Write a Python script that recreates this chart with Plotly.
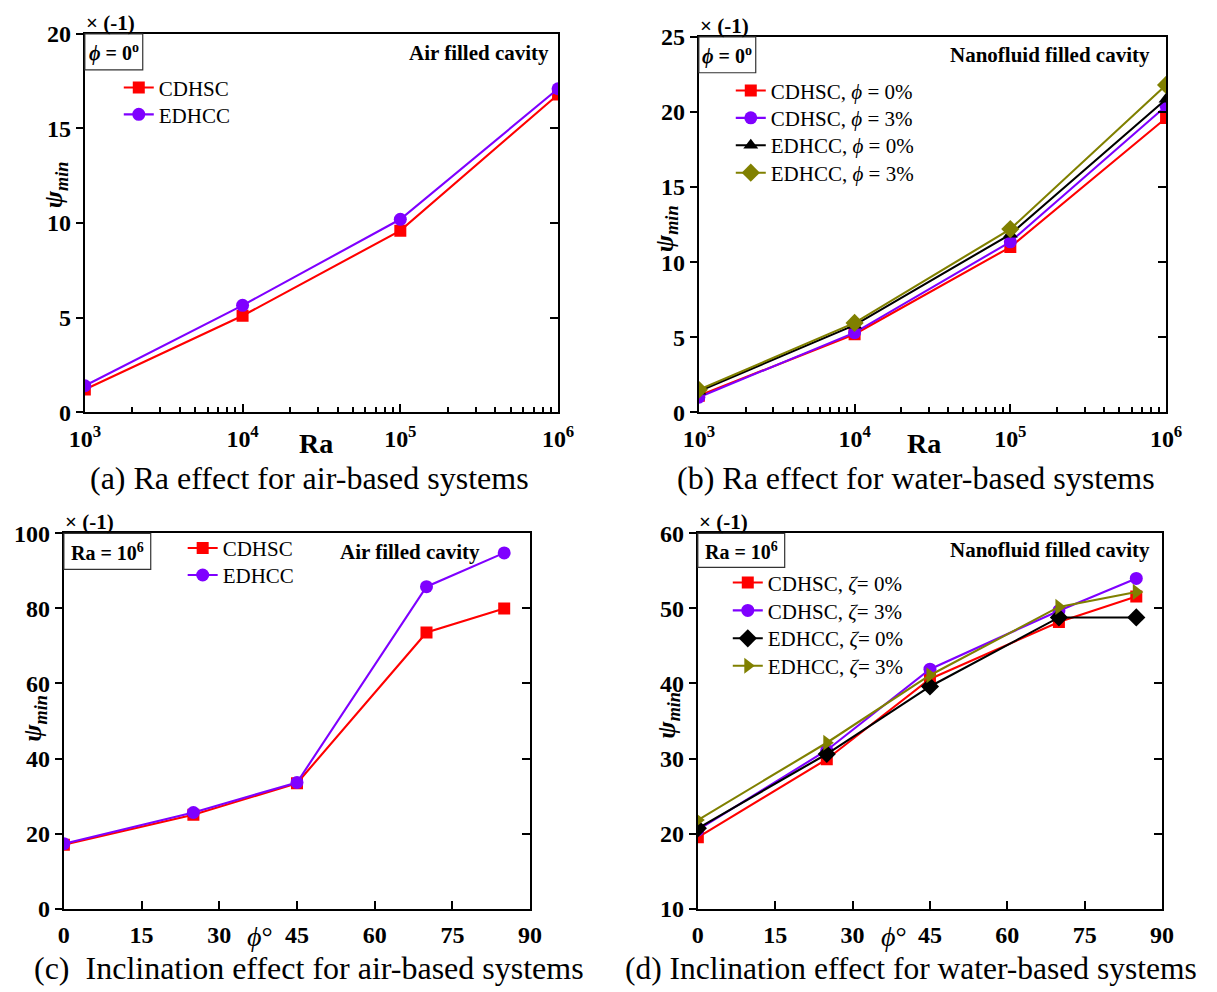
import plotly.graph_objects as go

W, H = 1217, 992
FONT = "Liberation Serif, Times New Roman, serif"

# ---------------- data ----------------
ra_vals = [1e3, 1e4, 1e5, 1e6]
ra_ticktext = ["10<sup>3</sup>", "10<sup>4</sup>", "10<sup>5</sup>", "10<sup>6</sup>"]

# (a) air, phi = 0
a_cdhsc = [1.2, 5.1, 9.6, 16.8]
a_edhcc = [1.4, 5.65, 10.2, 17.1]

# (b) nanofluid, phi = 0
b_cdhsc_0 = [1.1, 5.2, 11.0, 19.6]
b_cdhsc_3 = [1.0, 5.3, 11.35, 20.4]
b_edhcc_0 = [1.4, 5.8, 11.85, 20.85]
b_edhcc_3 = [1.5, 5.95, 12.2, 21.8]

# (c) air, Ra = 1e6
inc_vals = [0, 25, 45, 70, 85]
c_cdhsc = [17.0, 25.0, 33.4, 73.6, 80.0]
c_edhcc = [17.3, 25.6, 33.6, 85.8, 94.8]

# (d) nanofluid, Ra = 1e6
d_cdhsc_0 = [19.5, 29.9, 40.6, 48.2, 51.6]
d_cdhsc_3 = [20.5, 31.1, 41.9, 49.7, 54.0]
d_edhcc_0 = [20.7, 30.6, 39.6, 48.8, 48.8]
d_edhcc_3 = [21.8, 32.1, 41.1, 50.2, 52.2]

RED, PURPLE, BLACK, OLIVE = "#FF0000", "#7F00FF", "#000000", "#808000"

# The photographed page shows the figure slightly inset/scaled; these map
# wanted picture positions (pixels) onto paper fractions.
SX, OX = 0.9753, 15.05
SY, OY = 0.9767, 11.05


def px(X):
    return ((X - OX) / SX) / W


def py(Y):
    return 1 - ((Y - OY) / SY) / H


# panel geometry in picture pixels: (left, right, top, bottom)
P = {
    "a": (84, 558, 32, 411.5),
    "b": (699, 1167, 35, 411.5),
    "c": (63, 530, 533, 909.3),
    "d": (698, 1163, 533, 909.3),
}

fig = go.Figure()
LW = 2.1

legfont = dict(family=FONT, size=21, color="black")
leg_layouts = {}
ROW_OFF = 22.5


def add(x, y, name, color, symbol, xa, ya, leg_x, row_y, size=12):
    n = len(leg_layouts) + 1
    key = "legend" if n == 1 else "legend%d" % n
    leg_layouts[key] = dict(x=px(leg_x), y=py(row_y - ROW_OFF), xanchor="left",
                            yanchor="top", bgcolor="rgba(0,0,0,0)", borderwidth=0,
                            font=legfont, itemsizing="trace")
    fig.add_trace(go.Scatter(
        x=x, y=y, name=name, mode="lines+markers",
        line=dict(color=color, width=LW),
        marker=dict(color=color, symbol=symbol, size=size),
        xaxis=xa, yaxis=ya, legend=key))


add(ra_vals, a_cdhsc, "CDHSC", RED, "square", "x", "y", 118, 88, 12)
add(ra_vals, a_edhcc, "EDHCC", PURPLE, "circle", "x", "y", 118, 115, 13)

add(ra_vals, b_cdhsc_0, "CDHSC, <i>ϕ</i> = 0%", RED, "square", "x2", "y2", 731, 91, 12)
add(ra_vals, b_cdhsc_3, "CDHSC, <i>ϕ</i> = 3%", PURPLE, "circle", "x2", "y2", 731, 118.5, 13)
add(ra_vals, b_edhcc_0, "EDHCC, <i>ϕ</i> = 0%", BLACK, "triangle-up", "x2", "y2", 731, 146, 13)
add(ra_vals, b_edhcc_3, "EDHCC, <i>ϕ</i> = 3%", OLIVE, "diamond", "x2", "y2", 731, 173.5, 14)

add(inc_vals, c_cdhsc, "CDHSC", RED, "square", "x3", "y3", 182, 550, 12)
add(inc_vals, c_edhcc, "EDHCC", PURPLE, "circle", "x3", "y3", 182, 577, 13)

add(inc_vals, d_cdhsc_0, "CDHSC, <i>ζ</i>= 0%", RED, "square", "x4", "y4", 728, 584.5, 12)
add(inc_vals, d_cdhsc_3, "CDHSC, <i>ζ</i>= 3%", PURPLE, "circle", "x4", "y4", 728, 612.5, 13)
add(inc_vals, d_edhcc_0, "EDHCC, <i>ζ</i>= 0%", BLACK, "diamond", "x4", "y4", 728, 640.5, 14)
add(inc_vals, d_edhcc_3, "EDHCC, <i>ζ</i>= 3%", OLIVE, "triangle-right", "x4", "y4", 728, 668, 14)

# empty traces so that the right-side tick axes render
for i, xa in zip(range(5, 9), ["x", "x2", "x3", "x4"]):
    fig.add_trace(go.Scatter(x=[], y=[], xaxis=xa, yaxis="y%d" % i,
                             showlegend=False, hoverinfo="skip"))

tickfont = dict(family=FONT, size=24, color="black", weight="bold")

layout = dict(
    width=W, height=H, margin=dict(l=0, r=0, t=0, b=0),
    paper_bgcolor="white", plot_bgcolor="white",
    font=dict(family=FONT, color="black"),
    showlegend=True,
)
layout.update(leg_layouts)

ykeys = {"a": "", "b": "2", "c": "3", "d": "4"}
yr = {"a": ([0, 20], 5), "b": ([0, 25], 5), "c": ([0, 100], 20), "d": ([10, 60], 10)}
minor_log = [m * 10 ** e for e in (3, 4, 5) for m in range(2, 10)]

for k, (l, r, t, b) in P.items():
    s = ykeys[k]
    xa = dict(domain=[px(l), px(r)], anchor="y" + s, showgrid=False, zeroline=False,
              showline=True, linecolor="black", linewidth=LW, mirror=True,
              ticks="inside", ticklen=8, tickwidth=2, tickcolor="black",
              tickfont=tickfont, ticklabelstandoff=4)
    if k in ("a", "b"):
        xa.update(type="log", range=[3, 6], tickmode="array", tickvals=ra_vals,
                  ticktext=ra_ticktext,
                  minor=dict(tickmode="array", tickvals=minor_log, ticks="inside",
                             ticklen=5, tickwidth=1.5, tickcolor="black", showgrid=False))
    else:
        xa.update(range=[0, 90], tickmode="array", tickvals=list(range(0, 91, 15)))
    rng, dt = yr[k]
    yvals = list(range(rng[0], rng[1] + 1, dt))
    ya = dict(domain=[py(b), py(t)], anchor="x" + s, range=rng, tickmode="array",
              tickvals=yvals, showgrid=False, zeroline=False, showline=True,
              linecolor="black", linewidth=LW, mirror=True, ticks="outside", ticklen=7,
              tickwidth=2, tickcolor="black", tickfont=tickfont)
    layout["xaxis" + s] = xa
    layout["yaxis" + s] = ya
    rk = {"a": "5", "b": "6", "c": "7", "d": "8"}[k]
    layout["yaxis" + rk] = dict(overlaying="y" + s, side="right", anchor="x" + s,
                                range=rng, tickmode="array", tickvals=yvals,
                                ticks="inside", ticklen=8, tickwidth=2, tickcolor="black",
                                showticklabels=False, showgrid=False, zeroline=False,
                                showline=False)

fig.update_layout(**layout)

ann = []
shapes = []


def text(x, y, t, size, bold=False, xanchor="center", yanchor="middle", angle=0):
    ann.append(dict(xref="paper", yref="paper", x=px(x), y=py(y), text=t,
                    showarrow=False, xanchor=xanchor, yanchor=yanchor, textangle=angle,
                    borderpad=0,
                    font=dict(family=FONT, size=size, color="black",
                              weight="bold" if bold else "normal")))


# x(-1) labels
for (l, r, t, b) in P.values():
    text(l, t - 11, "× (-1)", 21, bold=True, xanchor="left")

# boxed condition labels
boxes = {
    "a": (84, 142, 32, 68, "<i>ϕ</i> = 0<sup>o</sup>"),
    "b": (699, 756, 35, 71, "<i>ϕ</i> = 0<sup>o</sup>"),
    "c": (63, 150, 533, 569, "Ra = 10<sup>6</sup>"),
    "d": (698, 785, 533, 567, "Ra = 10<sup>6</sup>"),
}
for (x0, x1, y0, y1, t) in boxes.values():
    shapes.append(dict(type="rect", xref="paper", yref="paper", x0=px(x0), x1=px(x1),
                       y0=py(y1), y1=py(y0), line=dict(color="#333333", width=1.2)))
    text((x0 + x1) / 2, (y0 + y1) / 2 + 1, t, 20, bold=True)

# cavity labels
text(550, 51, "Air filled cavity", 21, bold=True, xanchor="right")
text(1152, 53, "Nanofluid filled cavity", 21, bold=True, xanchor="right")
text(481, 552, "Air filled cavity", 21, bold=True, xanchor="right")
text(1152, 550, "Nanofluid filled cavity", 21, bold=True, xanchor="right")

# x titles
text(316, 443, "Ra", 28, bold=True)
text(925, 443, "Ra", 28, bold=True)
text(259, 937, "<i>ϕ</i>°", 28)
text(894, 937, "<i>ϕ</i>°", 28)

# y titles
ytitle = "<b><i>ψ</i></b><sub><b><i>min</i></b></sub>"
text(55, 183, ytitle, 26, angle=-90)
text(666, 227, ytitle, 26, angle=-90)
text(33, 718, ytitle, 26, angle=-90)
text(668, 715, ytitle, 26, angle=-90)

# captions
text(309, 477, "(a) Ra effect for air-based systems", 32)
text(917, 477, "(b) Ra effect for water-based systems", 32)
text(309, 969, "(c)  Inclination effect for air-based systems", 32)
text(912, 969, "(d) Inclination effect for water-based systems", 31.5)

fig.update_layout(annotations=ann, shapes=shapes)

fig.write_html("out.html")
